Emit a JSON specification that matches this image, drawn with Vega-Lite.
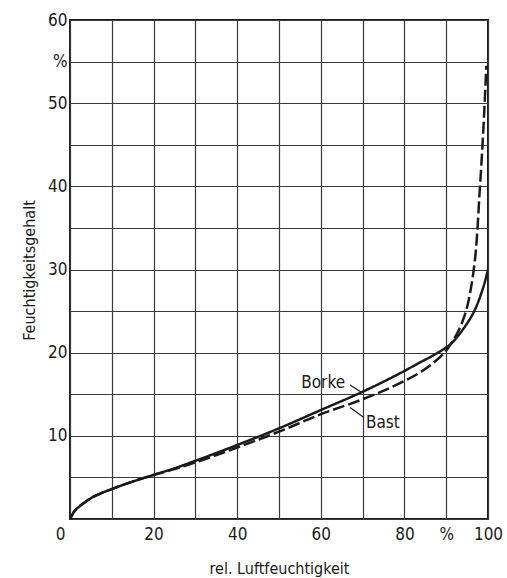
{
  "$schema": "https://vega.github.io/schema/vega-lite/v6.json",
  "autosize": "none",
  "width": 418,
  "height": 499,
  "padding": {"left": 70, "top": 20, "right": 19, "bottom": 59},
  "background": "white",
  "config": {
    "view": {"stroke": "#1a1a1a", "strokeWidth": 2},
    "axis": {
      "labelFont": "DejaVu Sans Condensed",
      "labelFontSize": 17,
      "labelColor": "#1a1a1a",
      "titleFont": "DejaVu Sans Condensed",
      "titleFontSize": 16,
      "titleFontWeight": "normal",
      "titleColor": "#1a1a1a",
      "gridColor": "#3a3a3a",
      "gridWidth": 1.2,
      "gridOpacity": 1,
      "domain": false,
      "ticks": false
    }
  },
  "datasets": {
    "curves": [
      {"x": 0, "y": 0, "s": "Borke"}, {"x": 1, "y": 0.9, "s": "Borke"}, {"x": 2, "y": 1.4, "s": "Borke"}, {"x": 3, "y": 1.8, "s": "Borke"}, {"x": 5, "y": 2.5, "s": "Borke"}, {"x": 7, "y": 3.0, "s": "Borke"}, {"x": 10, "y": 3.6, "s": "Borke"}, {"x": 15, "y": 4.5, "s": "Borke"}, {"x": 20, "y": 5.3, "s": "Borke"}, {"x": 25, "y": 6.1, "s": "Borke"}, {"x": 30, "y": 7.0, "s": "Borke"}, {"x": 40, "y": 8.9, "s": "Borke"}, {"x": 50, "y": 10.9, "s": "Borke"}, {"x": 60, "y": 13.1, "s": "Borke"}, {"x": 70, "y": 15.3, "s": "Borke"}, {"x": 80, "y": 17.8, "s": "Borke"}, {"x": 84, "y": 18.9, "s": "Borke"}, {"x": 87, "y": 19.7, "s": "Borke"}, {"x": 89, "y": 20.3, "s": "Borke"}, {"x": 91, "y": 21.0, "s": "Borke"}, {"x": 92.5, "y": 21.8, "s": "Borke"}, {"x": 94, "y": 22.8, "s": "Borke"}, {"x": 95.5, "y": 23.9, "s": "Borke"}, {"x": 97, "y": 25.3, "s": "Borke"}, {"x": 98.3, "y": 27.0, "s": "Borke"}, {"x": 99.3, "y": 28.6, "s": "Borke"}, {"x": 100, "y": 30.0, "s": "Borke"},
      {"x": 0, "y": 0, "s": "Bast"}, {"x": 1, "y": 0.9, "s": "Bast"}, {"x": 2, "y": 1.4, "s": "Bast"}, {"x": 3, "y": 1.8, "s": "Bast"}, {"x": 5, "y": 2.5, "s": "Bast"}, {"x": 7, "y": 3.0, "s": "Bast"}, {"x": 10, "y": 3.6, "s": "Bast"}, {"x": 15, "y": 4.5, "s": "Bast"}, {"x": 20, "y": 5.3, "s": "Bast"}, {"x": 25, "y": 6.0, "s": "Bast"}, {"x": 30, "y": 6.8, "s": "Bast"}, {"x": 40, "y": 8.6, "s": "Bast"}, {"x": 50, "y": 10.5, "s": "Bast"}, {"x": 60, "y": 12.6, "s": "Bast"}, {"x": 70, "y": 14.4, "s": "Bast"}, {"x": 80, "y": 16.6, "s": "Bast"}, {"x": 84, "y": 17.7, "s": "Bast"}, {"x": 87, "y": 18.8, "s": "Bast"}, {"x": 89, "y": 19.7, "s": "Bast"}, {"x": 90.5, "y": 20.6, "s": "Bast"}, {"x": 91.8, "y": 21.6, "s": "Bast"}, {"x": 93, "y": 22.7, "s": "Bast"}, {"x": 94, "y": 23.9, "s": "Bast"}, {"x": 94.8, "y": 25.1, "s": "Bast"}, {"x": 95.5, "y": 26.6, "s": "Bast"}, {"x": 96.1, "y": 28.3, "s": "Bast"}, {"x": 96.6, "y": 30.0, "s": "Bast"}, {"x": 97.1, "y": 32.3, "s": "Bast"}, {"x": 97.5, "y": 35.0, "s": "Bast"}, {"x": 97.9, "y": 38.5, "s": "Bast"}, {"x": 98.4, "y": 42.5, "s": "Bast"}, {"x": 98.8, "y": 46.0, "s": "Bast"}, {"x": 99.2, "y": 50.0, "s": "Bast"}, {"x": 99.6, "y": 54.5, "s": "Bast"}
    ],
    "labels": [
      {"x": 65.8, "y": 15.7, "t": "Borke", "a": "right"},
      {"x": 70.8, "y": 10.9, "t": "Bast", "a": "left"}
    ],
    "leaders": [
      {"x": 67.0, "y": 16.1, "x2": 69.8, "y2": 15.2},
      {"x": 67.0, "y": 13.4, "x2": 70.3, "y2": 12.2}
    ]
  },
  "layer": [
    {
      "data": {"name": "curves"},
      "mark": {"type": "line", "interpolate": "monotone", "color": "#1a1a1a", "strokeWidth": 2.5, "clip": true},
      "encoding": {
        "x": {
          "field": "x", "type": "quantitative",
          "scale": {"domain": [0, 100], "nice": false, "zero": false},
          "axis": {
            "values": [0, 10, 20, 30, 40, 50, 60, 70, 80, 90, 100],
            "labelExpr": "datum.value == 90 ? '%' : (datum.value % 20 == 0 ? datum.label : '')",
            "labelPadding": 7,
            "labelAlign": {"condition": {"test": "datum.value == 0", "value": "right"}, "value": "center"},
            "labelOffset": {"condition": {"test": "datum.value == 0", "value": -5}, "value": 0},
            "title": "rel. Luftfeuchtigkeit",
            "titleX": 209,
            "titleY": 54,
            "titleBaseline": "alphabetic",
            "titleAnchor": "middle",
            "titleAlign": "center"
          }
        },
        "y": {
          "field": "y", "type": "quantitative",
          "scale": {"domain": [0, 60], "nice": false, "zero": false},
          "axis": {
            "values": [0, 5, 10, 15, 20, 25, 30, 35, 40, 45, 50, 55, 60],
            "labelExpr": "datum.value == 55 ? '%' : (datum.value % 10 == 0 && datum.value > 0 ? datum.label : '')",
            "labelPadding": 3,
            "title": "Feuchtigkeitsgehalt",
            "titleAngle": -90,
            "titleX": -36,
            "titleY": 250,
            "titleBaseline": "alphabetic",
            "titleAlign": "center"
          }
        },
        "strokeDash": {
          "field": "s", "type": "nominal",
          "scale": {"domain": ["Borke", "Bast"], "range": [[1, 0], [12, 4]]},
          "legend": null
        },
        "detail": {"field": "s"}
      }
    },
    {
      "data": {"name": "leaders"},
      "mark": {"type": "rule", "color": "#1a1a1a", "strokeWidth": 1.2},
      "encoding": {
        "x": {"field": "x", "type": "quantitative"},
        "y": {"field": "y", "type": "quantitative"},
        "x2": {"field": "x2"},
        "y2": {"field": "y2"}
      }
    },
    {
      "data": {"name": "labels"},
      "transform": [{"filter": "datum.a == 'right'"}],
      "mark": {"type": "text", "font": "DejaVu Sans Condensed", "fontSize": 17, "color": "#1a1a1a", "baseline": "alphabetic", "align": "right"},
      "encoding": {
        "x": {"field": "x", "type": "quantitative"},
        "y": {"field": "y", "type": "quantitative"},
        "text": {"field": "t"}
      }
    },
    {
      "data": {"name": "labels"},
      "transform": [{"filter": "datum.a == 'left'"}],
      "mark": {"type": "text", "font": "DejaVu Sans Condensed", "fontSize": 17, "color": "#1a1a1a", "baseline": "alphabetic", "align": "left"},
      "encoding": {
        "x": {"field": "x", "type": "quantitative"},
        "y": {"field": "y", "type": "quantitative"},
        "text": {"field": "t"}
      }
    }
  ]
}
